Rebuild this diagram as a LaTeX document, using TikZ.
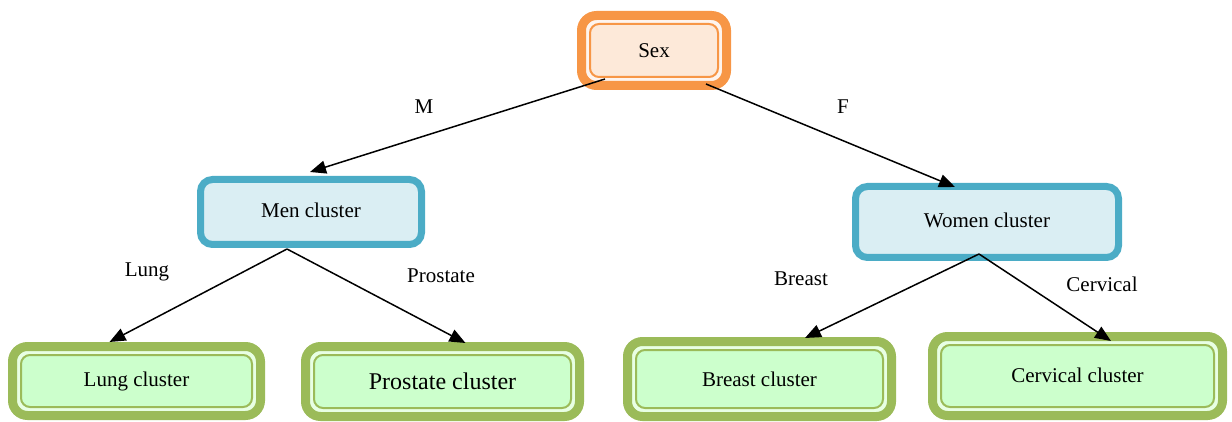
\documentclass[tikz,border=0pt]{standalone}
\usepackage{fontspec}
\setmainfont{Liberation Serif}
\usetikzlibrary{arrows.meta}

\definecolor{orangeline}{HTML}{F79646}
\definecolor{orangefill}{HTML}{FDE9D9}
\definecolor{orangegap}{HTML}{FEF4EE}
\definecolor{greenline}{HTML}{9BBB59}
\definecolor{greenfill}{HTML}{CCFFCC}
\definecolor{greengap}{HTML}{E8FFE4}
\definecolor{blueline}{HTML}{4BACC6}
\definecolor{bluefill}{HTML}{DAEEF3}

\tikzset{
  txt/.style={font=\fontsize{21}{25}\selectfont},
  % thick outer frame, light gap, thin inner frame
  doublebox/.style n args={3}{
    txt, draw=#1, fill=#3, line width=9pt, rounded corners=15pt,
    inner sep=0pt,
    path picture={
      \draw[draw=#1, line width=2pt, fill=#2, rounded corners=9pt]
        ([shift={(8.5,8.5)}]path picture bounding box.north west) rectangle
        ([shift={(-8.5,-8.5)}]path picture bounding box.south east);
    }
  },
  rootbox/.style={doublebox={orangeline}{orangefill}{orangegap}},
  leafbox/.style={doublebox={greenline}{greenfill}{greengap}},
  midbox/.style={txt, draw=blueline, fill=bluefill, line width=7pt,
    rounded corners=12pt, inner sep=0pt},
  edge/.style={line width=1.5pt, -{Triangle[length=16pt,width=13pt]}},
  lbl/.style={txt, inner sep=0pt}
}

\begin{document}
\begin{tikzpicture}[x=1pt,y=-1pt]
\useasboundingbox (0,0) rectangle (1232,422);

% nodes
\node[rootbox, minimum width=145pt, minimum height=70pt] (sex) at (654,50.5) {Sex};
\node[midbox, minimum width=221pt, minimum height=65pt] (men) at (311,212) {\raisebox{4pt}{Men cluster}};
\node[midbox, minimum width=263pt, minimum height=71pt] (women) at (987,222) {\raisebox{4pt}{Women cluster}};
\node[leafbox, minimum width=248pt, minimum height=69pt] (lung) at (136.5,381) {Lung cluster};
\node[leafbox, minimum width=274pt, minimum height=70pt, font=\fontsize{24}{28}\selectfont] (prostate) at (442.5,381.5) {Prostate cluster};
\node[leafbox, minimum width=264pt, minimum height=75pt] (breast) at (759.5,379) {Breast cluster};
\node[leafbox, minimum width=290pt, minimum height=79pt] (cervical) at (1077.5,376) {\raisebox{2pt}{Cervical cluster}};

% branch labels
\node[lbl] (lm) at (424,107) {M};
\node[lbl] (lf) at (843,107) {F};
\node[lbl] (llung) at (147,272) {Lung};
\node[lbl] (lpro) at (441,276) {Prostate};
\node[lbl] (lbre) at (801,279) {Breast};
\node[lbl] (lcer) at (1102,284) {Cervical};

% connectors
\draw[edge] ([shift={(-49,-11)}]sex.south) -- ([shift={(-1,-4)}]men.north);
\draw[edge] ([shift={(52,-6)}]sex.south) -- ([shift={(-32,4)}]women.north);
\draw[edge] ([shift={(-24,1)}]men.south) -- ([shift={(-27,0)}]lung.north);
\draw[edge] ([shift={(-24,1)}]men.south) -- ([shift={(23,1)}]prostate.north);
\draw[edge] ([shift={(-8,-7)}]women.south) -- ([shift={(45.5,1)}]breast.north);
\draw[edge] ([shift={(-8,-7)}]women.south) -- ([shift={(33.5,9)}]cervical.north);
\end{tikzpicture}
\end{document}
